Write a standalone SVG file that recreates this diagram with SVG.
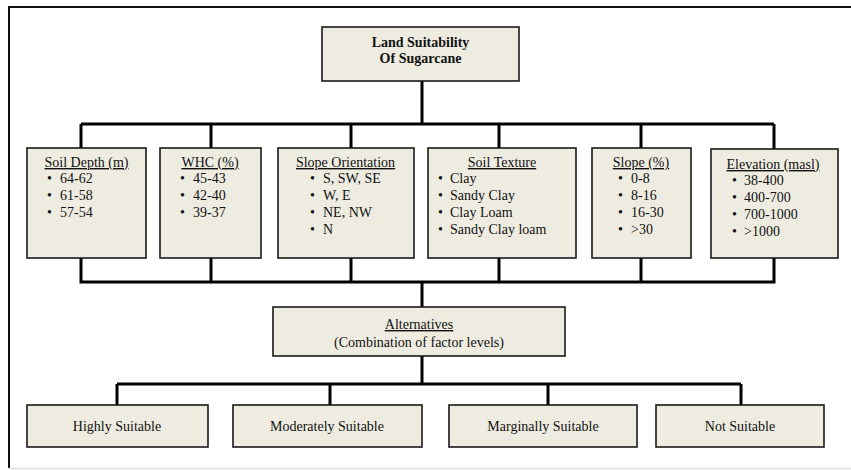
<svg xmlns="http://www.w3.org/2000/svg" width="851" height="470" viewBox="0 0 851 470">
<style>
.box{fill:#EEECE1;stroke:#1a1a1a;stroke-width:1.6}
.conn{fill:none;stroke:#000;stroke-width:3}
text{font-family:"Liberation Serif","Times New Roman",serif;font-size:14px;fill:#111}
.b{font-weight:bold}
.u{text-decoration:underline}
.c{text-anchor:middle}
</style>
<rect x="0" y="0" width="851" height="470" fill="#fff"/>
<g id="frame">
<line x1="9" y1="7" x2="851" y2="7" stroke="#111" stroke-width="2"/>
<line x1="9" y1="6" x2="9" y2="468" stroke="#111" stroke-width="2"/>
<line x1="9" y1="468.5" x2="851" y2="468.5" stroke="#ddd" stroke-width="1.5"/>
</g>
<g id="connectors">
<path class="conn" d="M422 81V124M81 124H774M81 124V148M211 124V148M351 124V148M499 124V148M641 124V148M774 124V149"/>
<path class="conn" d="M81 258V282H774V258M211 258V282M351 258V282M499 258V282M641 258V282M422 282V307"/>
<path class="conn" d="M422 356V384M117 384H741M117 384V405M330 384V405M548 384V405M741 384V405"/>
</g>
<g id="root">
<rect class="box" x="322" y="27" width="197" height="54"/>
<text class="b c" x="420.5" y="47">Land Suitability</text>
<text class="b c" x="420.5" y="63">Of Sugarcane</text>
</g>
<g id="soil-depth">
<rect class="box" x="27" y="148" width="119" height="110"/>
<text class="u c" x="86.5" y="167">Soil Depth (m)</text>
<text x="47" y="183">•</text><text x="60" y="183">64-62</text>
<text x="47" y="200">•</text><text x="60" y="200">61-58</text>
<text x="47" y="217">•</text><text x="60" y="217">57-54</text>
</g>
<g id="whc">
<rect class="box" x="160" y="148" width="101" height="110"/>
<text class="u c" x="210" y="167">WHC (%)</text>
<text x="180" y="183">•</text><text x="193" y="183">45-43</text>
<text x="180" y="200">•</text><text x="193" y="200">42-40</text>
<text x="180" y="217">•</text><text x="193" y="217">39-37</text>
</g>
<g id="slope-orientation">
<rect class="box" x="278" y="148" width="136" height="110"/>
<text class="u c" x="345.5" y="167">Slope Orientation</text>
<text x="310" y="183">•</text><text x="323" y="183">S, SW, SE</text>
<text x="310" y="200">•</text><text x="323" y="200">W, E</text>
<text x="310" y="217">•</text><text x="323" y="217">NE, NW</text>
<text x="310" y="234">•</text><text x="323" y="234">N</text>
</g>
<g id="soil-texture">
<rect class="box" x="428" y="148" width="148" height="110"/>
<text class="u c" x="502" y="167">Soil Texture</text>
<text x="438" y="183">•</text><text x="450" y="183">Clay</text>
<text x="438" y="200">•</text><text x="450" y="200">Sandy Clay</text>
<text x="438" y="217">•</text><text x="450" y="217">Clay Loam</text>
<text x="438" y="234">•</text><text x="450" y="234">Sandy Clay loam</text>
</g>
<g id="slope">
<rect class="box" x="592" y="148" width="99" height="110"/>
<text class="u c" x="641" y="167">Slope (%)</text>
<text x="618" y="183">•</text><text x="631" y="183">0-8</text>
<text x="618" y="200">•</text><text x="631" y="200">8-16</text>
<text x="618" y="217">•</text><text x="631" y="217">16-30</text>
<text x="618" y="234">•</text><text x="631" y="234">&gt;30</text>
</g>
<g id="elevation">
<rect class="box" x="711" y="149" width="127" height="109"/>
<text class="u c" x="773" y="169">Elevation (masl)</text>
<text x="732" y="185">•</text><text x="744" y="185">38-400</text>
<text x="732" y="202">•</text><text x="744" y="202">400-700</text>
<text x="732" y="219">•</text><text x="744" y="219">700-1000</text>
<text x="732" y="236">•</text><text x="744" y="236">&gt;1000</text>
</g>
<g id="alternatives">
<rect class="box" x="273" y="307" width="292" height="49"/>
<text class="u c" x="419" y="329">Alternatives</text>
<text class="c" x="419" y="347">(Combination of factor levels)</text>
</g>
<g id="highly-suitable">
<rect class="box" x="27" y="405" width="181" height="42"/>
<text class="c" x="117" y="431">Highly  Suitable</text>
</g>
<g id="moderately-suitable">
<rect class="box" x="233" y="405" width="189" height="42"/>
<text class="c" x="327" y="431">Moderately Suitable</text>
</g>
<g id="marginally-suitable">
<rect class="box" x="449" y="405" width="188" height="42"/>
<text class="c" x="543" y="431">Marginally  Suitable</text>
</g>
<g id="not-suitable">
<rect class="box" x="656" y="405" width="168" height="42"/>
<text class="c" x="740" y="431">Not Suitable</text>
</g>
</svg>
